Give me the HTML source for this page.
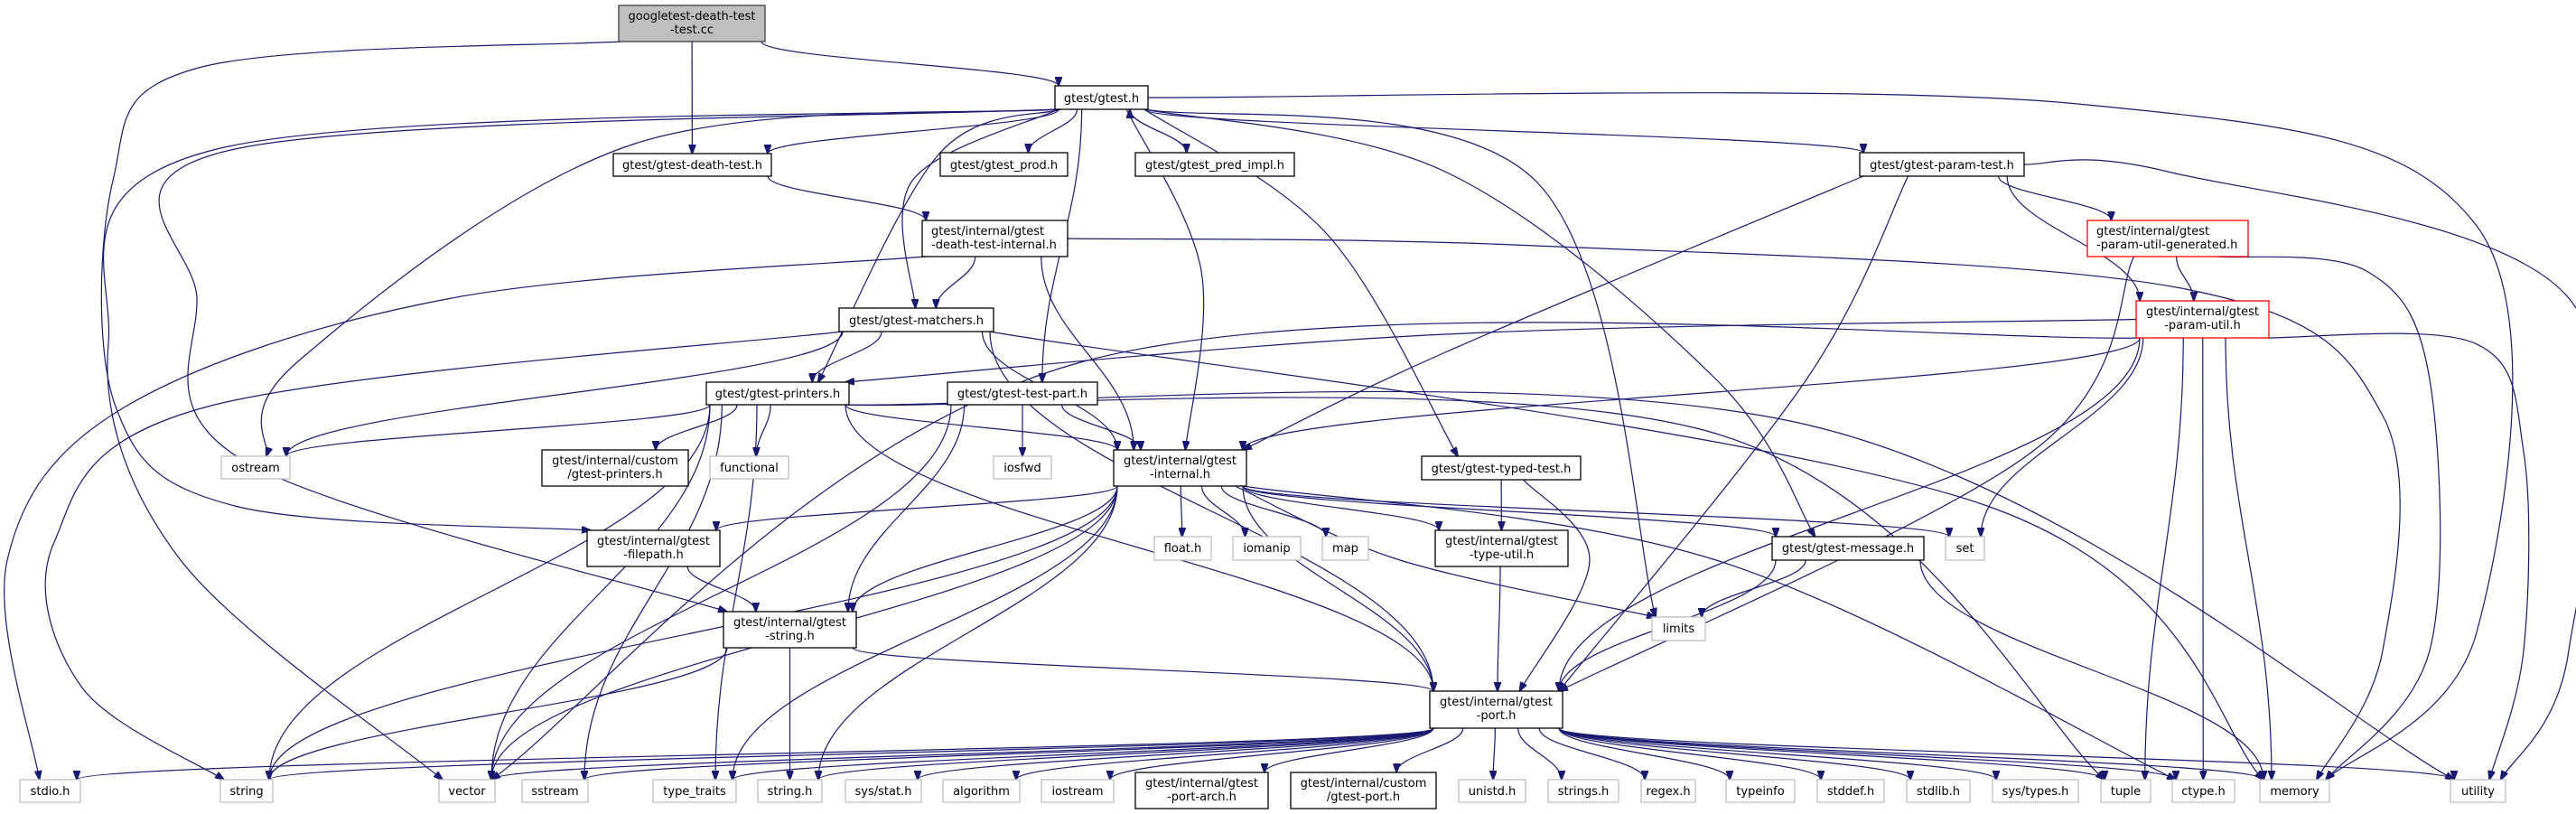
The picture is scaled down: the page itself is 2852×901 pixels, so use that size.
<!DOCTYPE html>
<html><head><meta charset="utf-8">
<style>
html,body{margin:0;padding:0;background:#fff;}
svg{display:block;}
text{font-family:"DejaVu Sans","Liberation Sans",sans-serif;font-size:13px;fill:#000;}
</style></head>
<body>
<svg id="s" xmlns="http://www.w3.org/2000/svg" width="2852" height="901" viewBox="0 0 2852 901">
<defs>
<marker id="a" markerWidth="11" markerHeight="8" refX="10" refY="4" orient="auto" markerUnits="userSpaceOnUse">
<path d="M0,0 L11,4 L0,8 z" fill="#191970" stroke="#191970"/>
</marker>
</defs>
<g id="edges" fill="none" stroke="#191970" stroke-width="1.2"></g>
<g id="boxes"></g>
<g id="labels">
<text x="766" y="22" text-anchor="middle">googletest-death-test</text>
<text x="766" y="37" text-anchor="middle">-test.cc</text>
<text x="1219.5" y="113" text-anchor="middle">gtest/gtest.h</text>
<text x="766.5" y="187" text-anchor="middle">gtest/gtest-death-test.h</text>
<text x="1111.5" y="187" text-anchor="middle">gtest/gtest_prod.h</text>
<text x="1345" y="187" text-anchor="middle">gtest/gtest_pred_impl.h</text>
<text x="2150" y="187" text-anchor="middle">gtest/gtest-param-test.h</text>
<text x="1031" y="260">gtest/internal/gtest</text>
<text x="1031" y="275">-death-test-internal.h</text>
<text x="2321" y="260">gtest/internal/gtest</text>
<text x="2321" y="275">-param-util-generated.h</text>
<text x="1014.5" y="359" text-anchor="middle">gtest/gtest-matchers.h</text>
<text x="2438.5" y="349" text-anchor="middle">gtest/internal/gtest</text>
<text x="2438.5" y="364" text-anchor="middle">-param-util.h</text>
<text x="861" y="440" text-anchor="middle">gtest/gtest-printers.h</text>
<text x="1132" y="440" text-anchor="middle">gtest/gtest-test-part.h</text>
<text x="283" y="522" text-anchor="middle">ostream</text>
<text x="681" y="514" text-anchor="middle">gtest/internal/custom</text>
<text x="681" y="529" text-anchor="middle">/gtest-printers.h</text>
<text x="829.5" y="522" text-anchor="middle">functional</text>
<text x="1132" y="522" text-anchor="middle">iosfwd</text>
<text x="1306.5" y="514" text-anchor="middle">gtest/internal/gtest</text>
<text x="1306.5" y="529" text-anchor="middle">-internal.h</text>
<text x="1662" y="523" text-anchor="middle">gtest/gtest-typed-test.h</text>
<text x="723.5" y="603" text-anchor="middle">gtest/internal/gtest</text>
<text x="723.5" y="618" text-anchor="middle">-filepath.h</text>
<text x="1309.5" y="611" text-anchor="middle">float.h</text>
<text x="1402.5" y="611" text-anchor="middle">iomanip</text>
<text x="1489.5" y="611" text-anchor="middle">map</text>
<text x="1662.5" y="603" text-anchor="middle">gtest/internal/gtest</text>
<text x="1662.5" y="618" text-anchor="middle">-type-util.h</text>
<text x="2046" y="611" text-anchor="middle">gtest/gtest-message.h</text>
<text x="2175.5" y="611" text-anchor="middle">set</text>
<text x="874.5" y="693" text-anchor="middle">gtest/internal/gtest</text>
<text x="874.5" y="708" text-anchor="middle">-string.h</text>
<text x="1858.5" y="700" text-anchor="middle">limits</text>
<text x="1656.5" y="781" text-anchor="middle">gtest/internal/gtest</text>
<text x="1656.5" y="796" text-anchor="middle">-port.h</text>
<text x="55.5" y="880" text-anchor="middle">stdio.h</text>
<text x="273" y="880" text-anchor="middle">string</text>
<text x="517" y="880" text-anchor="middle">vector</text>
<text x="614.5" y="880" text-anchor="middle">sstream</text>
<text x="769" y="880" text-anchor="middle">type_traits</text>
<text x="874.5" y="880" text-anchor="middle">string.h</text>
<text x="978" y="880" text-anchor="middle">sys/stat.h</text>
<text x="1086.5" y="880" text-anchor="middle">algorithm</text>
<text x="1193" y="880" text-anchor="middle">iostream</text>
<text x="1330.5" y="871" text-anchor="middle">gtest/internal/gtest</text>
<text x="1330.5" y="886" text-anchor="middle">-port-arch.h</text>
<text x="1509.5" y="871" text-anchor="middle">gtest/internal/custom</text>
<text x="1509.5" y="886" text-anchor="middle">/gtest-port.h</text>
<text x="1652" y="880" text-anchor="middle">unistd.h</text>
<text x="1753" y="880" text-anchor="middle">strings.h</text>
<text x="1847" y="880" text-anchor="middle">regex.h</text>
<text x="1949" y="880" text-anchor="middle">typeinfo</text>
<text x="2049" y="880" text-anchor="middle">stddef.h</text>
<text x="2146" y="880" text-anchor="middle">stdlib.h</text>
<text x="2253.5" y="880" text-anchor="middle">sys/types.h</text>
<text x="2353.5" y="880" text-anchor="middle">tuple</text>
<text x="2439.5" y="880" text-anchor="middle">ctype.h</text>
<text x="2540.5" y="880" text-anchor="middle">memory</text>
<text x="2743.5" y="880" text-anchor="middle">utility</text>
</g>
</svg>
<script>
var N={
G:[685,6,847,46,'root'],T:[1168,95,1271,121],DT:[679,170,854,195],PROD:[1041,169,1182,195],PRED:[1257,169,1433,195],
PT:[2059,169,2241,195],DTI:[1021,244,1182,284],PUG:[2311,244,2489,284,'red'],MAT:[929,341,1100,367],PU:[2365,333,2512,374,'red'],
PR:[782,423,940,448],TP:[1049,423,1215,448],OST:[245,505,321,530,'g'],CP:[600,498,762,538],FUN:[786,505,873,530,'g'],
IOS:[1100,505,1164,530,'g'],INT:[1233,498,1380,538],TT:[1574,505,1750,531],FP:[650,587,797,627],FLT:[1278,594,1341,620,'g'],
IOM:[1365,594,1440,620,'g'],MAP:[1464,594,1515,620,'g'],TU:[1589,587,1736,627],MSG:[1962,594,2130,620],SET:[2154,594,2197,620,'g'],
STR:[801,677,948,717],LIM:[1829,683,1888,709,'g'],PORT:[1583,765,1730,806],
STDIO:[22,863,89,888,'g'],STRING:[244,863,302,888,'g'],VEC:[486,863,548,888,'g'],SSTR:[578,863,651,888,'g'],TYT:[723,863,815,888,'g'],
STRH:[839,863,910,888,'g'],SSTAT:[936,863,1020,888,'g'],ALG:[1044,863,1129,888,'g'],IOST:[1153,863,1233,888,'g'],
PA:[1257,855,1404,895],CPORT:[1429,855,1590,895],UNI:[1615,863,1689,888,'g'],STRS:[1714,863,1792,888,'g'],REG:[1817,863,1877,888,'g'],
TINFO:[1911,863,1987,888,'g'],STDDEF:[2012,863,2086,888,'g'],STDLIB:[2111,863,2181,888,'g'],STYPES:[2206,863,2301,888,'g'],
TUPLE:[2326,863,2381,888,'g'],CTYPE:[2405,863,2474,888,'g'],MEM:[2502,863,2579,888,'g'],UTIL:[2713,863,2774,888,'g']};
var E=[
['G','T'],['G','DT'],['G','FP',[[220,75],[125,200],[128,450],[260,560]]],
['T','DT'],['T','PROD'],['T','PRED'],['PRED','T'],['T','MAT',[[1010,200]]],['T','TP'],['T','PR',[[1040,170]]],['T','INT',[[1330,300]]],
['T','STR',[[260,165],[218,330],[270,510]]],['T','PT'],['T','TT',[[1470,260]]],['T','MSG',[[1600,190],[1900,420]]],['T','OST',[[700,160],[330,400]]],
['T','VEC',[[240,165],[120,380],[200,620]]],['T','LIM',[[1700,200]]],['T','MEM',[[2300,115],[2742,250],[2742,700]]],
['DT','DTI'],
['DTI','MAT'],['DTI','INT'],['DTI','STDIO',[[500,330],[139,450],[8,620]]],['DTI','MEM',[[1700,272],[2420,320],[2638,460],[2638,720]]],
['MAT','PR'],['MAT','INT'],['MAT','PORT'],['MAT','OST'],['MAT','STRING',[[230,450],[60,600],[90,760]]],['MAT','MEM',[[2200,560]]],
['PR','FUN'],['PR','OST'],['PR','SSTR'],['PR','STRING'],['PR','TUPLE',[[1900,480]]],['PR','TYT'],['PR','UTIL',[[2000,470]]],['PR','VEC'],['PR','INT'],['PR','PORT'],['PR','CP'],
['TP','IOS'],['TP','VEC'],['TP','INT'],['TP','STR'],
['INT','PORT'],['INT','CTYPE',[[1900,620]]],['INT','FLT'],['INT','STRH'],['INT','IOM'],['INT','LIM',[[1550,620]]],['INT','MAP'],['INT','SET'],
['INT','STRING'],['INT','TYT'],['INT','VEC'],['INT','MSG'],['INT','FP'],['INT','STR'],['INT','TU'],
['FP','STR'],['STR','STRH'],['STR','STRING'],['STR','PORT'],
['TT','TU'],['TT','PORT',[[1760,620]]],['TU','PORT'],
['MSG','LIM'],['MSG','MEM'],['MSG','PORT'],
['PT','PORT',[[2000,420]]],['PT','INT',[[1600,390]]],['PT','PU'],['PT','PUG'],['PT','UTIL',[[2400,190],[2844,330],[2844,720]]],
['PUG','PU'],['PUG','PORT',[[2250,500]]],['PUG','MEM',[[2620,300],[2690,420],[2690,720]]],
['PU','CTYPE'],['PU','SET'],['PU','TUPLE'],['PU','UTIL',[[2740,380],[2794,500],[2794,720]]],['PU','VEC',[[1200,400]]],['PU','INT'],['PU','PORT'],['PU','PR',[[1600,370]]],['PU','MEM']
];
['STDIO','STRING','VEC','SSTR','TYT','STRH','SSTAT','ALG','IOST','PA','CPORT','UNI','STRS','REG','TINFO','STDDEF','STDLIB','STYPES','TUPLE','CTYPE','MEM','UTIL'].forEach(function(k){E.push(['PORT',k]);});
var ns="http://www.w3.org/2000/svg";
function anchor(b,p,frac){
 var cx=(b[0]+b[2])/2,cy=(b[1]+b[3])/2,hw=(b[2]-b[0])/2;
 if(p[1]>b[3]){var x=cx+(p[0]-cx)*frac;x=Math.max(b[0]+4,Math.min(b[2]-4,x));return [x,b[3]];}
 if(p[1]<b[1]){var x=cx+(p[0]-cx)*frac;x=Math.max(b[0]+4,Math.min(b[2]-4,x));return [x,b[1]];}
 return [p[0]<cx?b[0]:b[2],cy];
}
var eg=document.getElementById('edges');
E.forEach(function(e){
 var s=N[e[0]],t=N[e[1]],via=e[2]||[];
 var sc=[(s[0]+s[2])/2,(s[1]+s[3])/2],tc=[(t[0]+t[2])/2,(t[1]+t[3])/2];
 var first=via.length?via[0]:tc,last=via.length?via[via.length-1]:sc;
 var sp=anchor(s,first,0.25),tp=anchor(t,last,0.25);
 var d;
 if(!via.length){
  var dy=tp[1]-sp[1];
  d='M'+sp+' C'+sp[0]+','+(sp[1]+dy*0.4)+' '+tp[0]+','+(tp[1]-dy*0.4)+' '+tp;
 } else {
  var P=[sp].concat(via).concat([tp]);
  d='M'+P[0];
  for(var i=0;i<P.length-1;i++){
   var p0=P[i-1]||P[i],p1=P[i],p2=P[i+1],p3=P[i+2]||P[i+1];
   var c1=[p1[0]+(p2[0]-p0[0])/6,p1[1]+(p2[1]-p0[1])/6];
   var c2=[p2[0]-(p3[0]-p1[0])/6,p2[1]-(p3[1]-p1[1])/6];
   d+=' C'+c1+' '+c2+' '+p2;
  }
 }
 var pa=document.createElementNS(ns,'path');
 pa.setAttribute('d',d);pa.setAttribute('marker-end','url(#a)');
 eg.appendChild(pa);
});
var bg=document.getElementById('boxes');
for(var k in N){
 var b=N[k],r=document.createElementNS(ns,'rect');
 r.setAttribute('x',b[0]);r.setAttribute('y',b[1]);r.setAttribute('width',b[2]-b[0]);r.setAttribute('height',b[3]-b[1]);
 var st=b[4],fill='#fff',str='#000',w=1.3;
 if(st=='root'){fill='#bfbfbf';str='#404040';}
 if(st=='g'){str='#bfbfbf';}
 if(st=='red'){str='#ff0000';}
 r.setAttribute('fill',fill);r.setAttribute('stroke',str);r.setAttribute('stroke-width',w);
 bg.appendChild(r);
}
</script>
</body></html>
